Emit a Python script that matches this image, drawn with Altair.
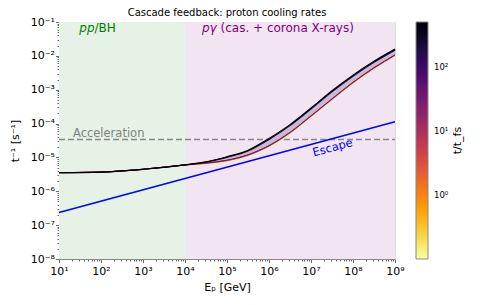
import altair as alt
import pandas as pd

# ---------------- data ----------------
E_GEV = [1e1, 1e2, 1e3, 1e4, 3.16e4, 1e5, 3.16e5, 1e6, 3.16e6, 1e7, 3.16e7, 1e8, 3.16e8, 1e9]
T_OVER_TFS = [0.15, 0.5, 2, 10, 40, 200, 500]
RATE_T_0_15 = [3.55e-6, 3.7e-6, 4.47e-6, 5.97e-6, 6.47e-6, 7.79e-6, 1.126e-5, 2.1e-5, 5.16e-5, 1.595e-4, 5.04e-4, 1.557e-3, 4.19e-3, 1.004e-2]
RATE_T_0_5 = [3.55e-6, 3.7e-6, 4.47e-6, 5.98e-6, 6.59e-6, 7.93e-6, 1.146e-5, 2.14e-5, 5.25e-5, 1.62e-4, 5.13e-4, 1.585e-3, 4.27e-3, 1.022e-2]
RATE_T_2 = [3.55e-6, 3.7e-6, 4.47e-6, 5.99e-6, 6.71e-6, 8.08e-6, 1.168e-5, 2.18e-5, 5.35e-5, 1.654e-4, 5.22e-4, 1.615e-3, 4.35e-3, 1.041e-2]
RATE_T_10 = [3.55e-6, 3.7e-6, 4.47e-6, 6.0e-6, 6.8e-6, 8.18e-6, 1.183e-5, 2.21e-5, 5.42e-5, 1.676e-4, 5.29e-4, 1.637e-3, 4.41e-3, 1.055e-2]
RATE_T_40 = [3.55e-6, 3.7e-6, 4.47e-6, 6.0e-6, 6.9e-6, 8.3e-6, 1.2e-5, 2.24e-5, 5.5e-5, 1.7e-4, 5.37e-4, 1.66e-3, 4.47e-3, 1.07e-2]
RATE_T_200 = [3.55e-6, 3.7e-6, 4.47e-6, 6.0e-6, 7.25e-6, 1.0e-5, 1.55e-5, 3.39e-5, 8.7e-5, 2.69e-4, 8.7e-4, 2.51e-3, 6.46e-3, 1.48e-2]
RATE_T_500 = [3.55e-6, 3.7e-6, 4.47e-6, 6.0e-6, 7.4e-6, 1.05e-5, 1.62e-5, 3.63e-5, 9.3e-5, 2.88e-4, 9.3e-4, 2.69e-3, 6.9e-3, 1.58e-2]
RATES = [RATE_T_0_15, RATE_T_0_5, RATE_T_2, RATE_T_10, RATE_T_40, RATE_T_200, RATE_T_500]

ESC_E = [1e1, 1e4, 1e9]
ESC_RATE = [2.35e-7, 2.4e-6, 1.13e-4]
ACC_E = [1e1, 1e9]
ACC_RATE = [3.4e-5, 3.4e-5]

REGION_LO = [1e1, 1e4]
REGION_HI = [1e4, 1e9]

ANN_TEXT = ["pp", "/BH", "pγ", "(cas. + corona X-rays)", "Acceleration", "Escape"]
ANN_E = [70, 70, 5.69e4, 7.0e4, 21.5, 3.3e7]
ANN_RATE = [0.0518, 0.0518, 0.0518, 0.0518, 3.88e-5, 1.86e-5]

X_DOMAIN = [1e1, 1e9]
Y_DOMAIN = [1e-8, 1e-1]
T_DOMAIN = [0.1, 500]
T_LABELS = [1, 10, 100]

# ---------------- tables ----------------
band = pd.DataFrame({"E": E_GEV, "top": RATE_T_500, "bottom": RATE_T_40})
esc = pd.DataFrame({"E": ESC_E, "rate": ESC_RATE})
acc = pd.DataFrame({"E": ACC_E, "rate": ACC_RATE})
regions = pd.DataFrame({
    "lo": REGION_LO, "hi": REGION_HI,
    "ylo": [Y_DOMAIN[0]] * 2, "yhi": [Y_DOMAIN[1]] * 2,
    "fill": ["#e5f2e5", "#f2e5f2"],
})

# ---------------- axes ----------------
FONT = "DejaVu Sans"
x_ticks = [m * 10.0 ** k for k in range(1, 9) for m in range(1, 10)] + [1e9]
y_ticks = [m * 10.0 ** k for k in range(-8, -1) for m in range(1, 10)] + [1e-2, 1e-1]

LX = "round(log(datum.value)/LN10)"
IS_MAJOR = f"abs(log(datum.value)/LN10 - {LX}) < 1e-6"
SUP = "['⁰','¹','²','³','⁴','⁵','⁶','⁷','⁸','⁹']"
LABEL_EXPR = f"{IS_MAJOR} ? '10' + ({LX} < 0 ? '⁻' : '') + {SUP}[abs({LX})] : ''"
TICK_SIZE = {"condition": {"test": IS_MAJOR, "value": 3.5}, "value": 2}

common_axis = dict(
    labelExpr=LABEL_EXPR, labelOverlap=False, labelFlush=False,
    labelFont=FONT, labelFontSize=11, labelColor="black",
    tickSize=TICK_SIZE, tickColor="#444", tickWidth=0.8,
    domainColor="#888", domainWidth=1, grid=False,
    titleFont=FONT, titleFontSize=11, titleFontWeight="normal", titleColor="black",
)
x_axis = alt.Axis(values=x_ticks, title="Eₚ [GeV]", labelPadding=2.5,
                  titleX=168, titleY=31.5, titleBaseline="alphabetic", **common_axis)
y_axis = alt.Axis(values=y_ticks, title="t⁻¹ [s⁻¹]", labelPadding=1,
                  titleX=-44, titleY=118.5, titleAngle=270, titleAlign="center",
                  titleBaseline="middle", **common_axis)

xs = alt.Scale(type="log", domain=X_DOMAIN, nice=False)
ys = alt.Scale(type="log", domain=Y_DOMAIN, nice=False)


def X(f):
    return alt.X(f, type="quantitative", scale=xs, axis=x_axis)


def Y(f):
    return alt.Y(f, type="quantitative", scale=ys, axis=y_axis)


bg = alt.Chart(regions).mark_rect(opacity=1).encode(
    x=X("lo"), x2="hi", y=Y("ylo"), y2="yhi", fill=alt.Fill("fill:N", scale=None)
)

acc_line = alt.Chart(acc).mark_line(color="#888888", strokeWidth=1.6, strokeDash=[6, 3]).encode(
    x=X("E"), y=Y("rate")
)
esc_line = alt.Chart(esc).mark_line(color="#0000ff", strokeWidth=1.5).encode(
    x=X("E"), y=Y("rate")
)
band_area = alt.Chart(band).mark_area(color="#c6b2cd", opacity=0.9, interpolate="monotone").encode(
    x=X("E"), y=Y("top"), y2="bottom"
)

color_scale = alt.Scale(type="log", domain=T_DOMAIN, scheme="inferno", reverse=True)
legend = alt.Legend(
    orient="none", legendX=357, legendY=0, direction="vertical",
    gradientLength=237, gradientThickness=12,
    gradientStrokeColor="#888", gradientStrokeWidth=1,
    values=T_LABELS, labelExpr=LABEL_EXPR, labelFont=FONT, labelFontSize=8.5,
    labelColor="black", labelOffset=6, labelOverlap=False, title=None, padding=0,
)

# one layer per curve so that higher t/t_fs is drawn on top
curve_layers = []
for t, rs in zip(T_OVER_TFS, RATES):
    df = pd.DataFrame({"E": E_GEV, "rate": rs, "t": [t] * len(E_GEV)})
    curve_layers.append(
        alt.Chart(df).mark_line(strokeWidth=1.2 if t >= 200 else 1.0, interpolate="monotone").encode(
            x=X("E"), y=Y("rate"),
            color=alt.Color("t:Q", scale=color_scale, legend=legend),
        )
    )

ann = pd.DataFrame({"E": ANN_E, "rate": ANN_RATE, "text": ANN_TEXT})
styles = [
    dict(color="#008000", fontStyle="italic", align="right", fontSize=12),
    dict(color="#008000", fontStyle="normal", align="left", fontSize=12),
    dict(color="#800080", fontStyle="italic", align="right", fontSize=12),
    dict(color="#800080", fontStyle="normal", align="left", fontSize=12),
    dict(color="#808080", fontStyle="normal", align="left", fontSize=11.5),
    dict(color="#0000ff", fontStyle="normal", align="center", fontSize=11.5, angle=345, baseline="middle"),
]
texts = []
for i, st in enumerate(styles):
    st = dict(st)
    st.setdefault("baseline", "alphabetic")
    texts.append(
        alt.Chart(ann.iloc[[i]]).mark_text(font=FONT, **st).encode(
            x=X("E"), y=Y("rate"), text="text:N"
        )
    )

cbar_title = alt.Chart(pd.DataFrame({"text": ["t/t_fs"]})).mark_text(
    font=FONT, fontSize=11, angle=270, align="center", baseline="middle", color="black"
).encode(x=alt.value(399), y=alt.value(118.5), text="text:N")

chart = alt.layer(
    bg, acc_line, band_area, *curve_layers, esc_line, *texts, cbar_title
).properties(
    width=336, height=237,
    title=alt.TitleParams("Cascade feedback: proton cooling rates", font=FONT, fontSize=10,
                          fontWeight="normal", color="black", offset=3, dy=4.5, anchor="middle"),
    autosize=alt.AutoSizeParams(type="none"),
    padding={"left": 51, "top": 14, "right": 80, "bottom": 36},
).configure_view(stroke="#888", strokeWidth=1).configure(background="white")

chart.save("out.html", embed_options={"renderer": "svg", "actions": False})
